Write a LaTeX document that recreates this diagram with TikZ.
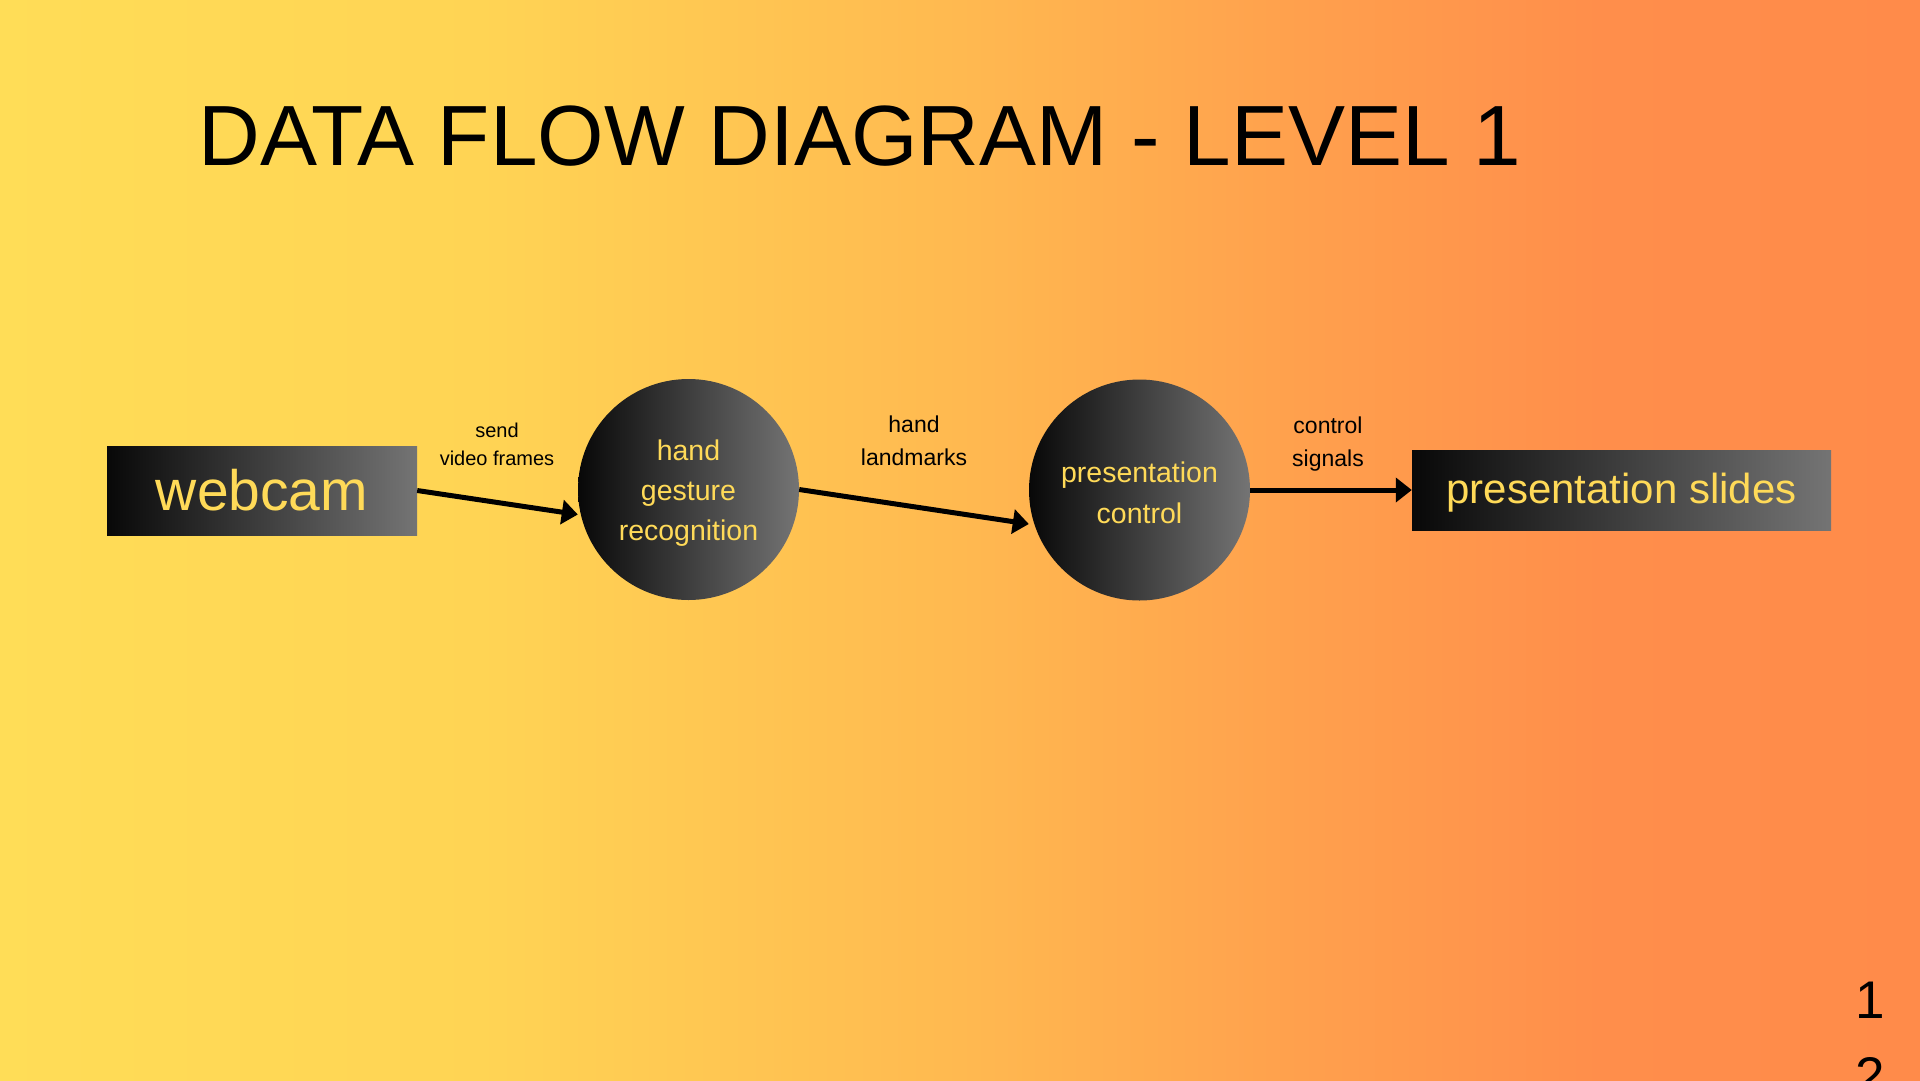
\documentclass[tikz,border=0pt]{standalone}
\usepackage{fontspec}
\setmainfont{Liberation Sans}
\usetikzlibrary{arrows.meta}
\definecolor{bgA}{RGB}{255,221,87}
\definecolor{bgB}{RGB}{255,212,84}
\definecolor{bgC}{RGB}{255,185,80}
\definecolor{bgD}{RGB}{255,160,77}
\definecolor{bgE}{RGB}{255,142,75}
\definecolor{bgF}{RGB}{255,139,74}
\definecolor{boxdark}{RGB}{8,8,8}
\definecolor{boxlight}{RGB}{116,116,116}
\definecolor{txtyellow}{RGB}{255,218,88}
\pgfdeclarehorizontalshading{bgshade}{100bp}{color(0bp)=(bgA); color(25bp)=(bgA); color(37.5bp)=(bgB); color(50bp)=(bgC); color(58.85bp)=(bgD); color(66.67bp)=(bgE); color(75bp)=(bgF); color(100bp)=(bgF)}
\begin{document}
\begin{tikzpicture}[x=1pt,y=-1pt,
  extbox/.style={rectangle, inner sep=0pt, left color=boxdark, right color=boxlight, text=txtyellow},
  proc/.style={circle, inner sep=0pt, minimum size=221pt, left color=boxdark, right color=boxlight, text=txtyellow, align=center},
  flow/.style={line width=5pt, -{Triangle[length=16pt,width=24pt]}},
  lbl/.style={align=center, inner sep=0pt, text=black}]
\useasboundingbox (0,0) rectangle (1920,1080);
\clip (0,0) rectangle (1920,1080);
\fill[shading=bgshade] (0,0) rectangle (1920,1080);

\node[anchor=base west, inner sep=0pt, font=\fontsize{85.5}{100}\selectfont] (title) at (198.5,165) {DATA FLOW DIAGRAM - LEVEL 1};

\node[extbox, minimum width=310pt, minimum height=89pt, font=\fontsize{57}{68}\selectfont] (webcam) at (262,490.5) {webcam};
\node[proc, font=\fontsize{28.5}{40}\selectfont] (hgr) at (688.5,489.5) {\rule{0pt}{28.2pt}hand\\gesture\\recognition};
\node[proc, font=\fontsize{28.5}{41.5}\selectfont] (pc) at (1139.5,490) {\rule{0pt}{25.8pt}presentation\\control};
\node[extbox, minimum width=419pt, minimum height=80pt, font=\fontsize{42}{50}\selectfont] (slides) at (1621.5,490) {\rule{0pt}{35.6pt}presentation slides};

\draw[flow] (webcam.east) -- ([yshift=-25pt]hgr.west);
\draw[flow] (hgr.east) -- ([yshift=-34pt]pc.west);
\draw[flow] (pc.east) -- (slides.west);

\node[lbl, font=\fontsize{20}{28}\selectfont] (l1) at (497,444) {send\\video frames};
\node[lbl, font=\fontsize{23}{33}\selectfont] (l2) at (914,441) {hand\\landmarks};
\node[lbl, font=\fontsize{23}{33}\selectfont] (l3) at (1328,444) {control\\signals};

\node[anchor=north, inner sep=0pt, align=center, font=\fontsize{53}{76}\selectfont] (pg) at (1870,982) {1\\2};
\end{tikzpicture}
\end{document}
